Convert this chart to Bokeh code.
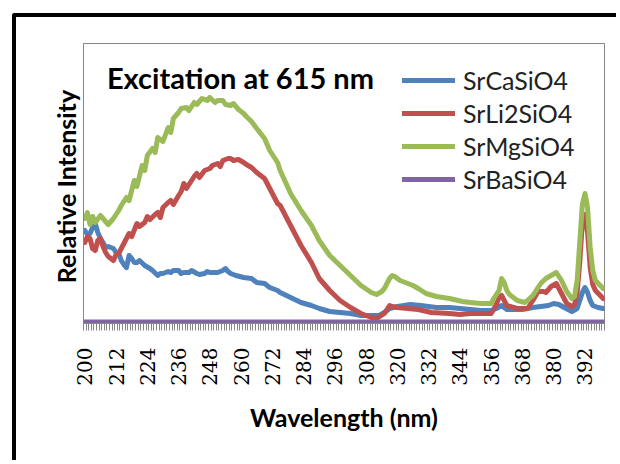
import math
from bokeh.plotting import figure
from bokeh.models import Range1d, FixedTicker, Legend, LegendItem, Label
from bokeh.embed import file_html
from bokeh.resources import INLINE

# ---------------- data ----------------
series_names = ["SrCaSiO4", "SrLi2SiO4", "SrMgSiO4", "SrBaSiO4"]
series_colors = ["#4F81BD", "#C0504D", "#9BBB59", "#8064A2"]

ca_nm = [200, 201, 202, 203, 204, 205, 206, 207, 208, 209, 211, 212, 213, 214, 215, 216, 217, 218, 219, 220,
         221, 223, 225, 226, 228, 229, 230, 232, 233, 234, 236, 237, 238, 240, 241, 243, 244, 246, 247, 248,
         250, 251, 253, 254, 255, 256, 258, 261, 264, 266, 269, 271, 274, 275, 279, 283, 287, 290, 294, 298,
         302, 306, 310, 313, 315, 317, 320, 325, 329, 335, 340, 344, 348, 352, 356, 358, 360, 362, 365, 368,
         372, 375, 378, 380, 382, 384, 387, 389, 390, 391, 392, 393, 394, 395, 397, 399]
ca_val = [92, 88, 89, 95, 99, 90, 84, 80, 75, 76, 74, 70, 69, 62, 58, 55, 67, 64, 60, 60,
          62, 57, 54, 52, 47, 49, 49, 51, 50, 52, 52, 49, 50, 50, 52, 49, 48, 49, 51, 50,
          50, 50, 52, 54, 51, 49, 47, 45, 44, 40, 39, 35, 32, 30, 25, 20, 17, 14, 11, 10,
          9, 7, 7, 7, 10, 14, 16, 18, 17, 15, 15, 14, 13, 12, 12, 14, 17, 13, 13, 13,
          15, 16, 17, 19, 18, 15, 11, 14, 22, 30, 35, 30, 22, 17, 15, 14]

li_nm = [200, 201, 202, 203, 204, 205, 206, 207, 208, 209, 211, 212, 213, 214, 215, 217, 218, 220, 221, 223,
         224, 225, 227, 228, 229, 230, 232, 233, 234, 236, 237, 238, 239, 241, 242, 243, 244, 246, 248, 249,
         251, 252, 253, 255, 256, 257, 259, 261, 262, 264, 266, 269, 271, 274, 275, 279, 283, 287, 290, 294,
         298, 302, 306, 310, 312, 315, 317, 318, 320, 324, 328, 333, 340, 344, 348, 352, 356, 358, 359, 360,
         361, 362, 366, 370, 372, 374, 376, 377, 379, 381, 383, 385, 387, 388, 389, 390, 391, 392, 393, 394,
         395, 396, 399]
li_val = [80, 86, 84, 74, 72, 82, 84, 76, 70, 66, 62, 68, 69, 74, 79, 89, 86, 99, 96, 100,
          106, 103, 108, 110, 105, 115, 120, 122, 118, 127, 131, 139, 134, 142, 146, 149, 145, 152, 154, 157,
          159, 156, 162, 164, 164, 162, 163, 160, 158, 155, 150, 144, 134, 119, 117, 97, 77, 60, 44, 32,
          22, 15, 9, 5, 4, 9, 17, 16, 15, 14, 13, 10, 9, 8, 9, 9, 9, 18, 25, 27,
          22, 17, 14, 14, 22, 31, 31, 30, 36, 39, 29, 19, 16, 18, 30, 60, 100, 108, 90, 55,
          38, 32, 24]

mg_nm = [200, 201, 202, 203, 204, 206, 208, 209, 211, 213, 214, 216, 217, 219, 220, 222, 223, 224, 226, 227,
         228, 230, 232, 233, 234, 236, 237, 239, 240, 242, 243, 245, 247, 248, 250, 251, 253, 254, 256, 257,
         259, 261, 262, 264, 266, 269, 271, 274, 275, 279, 283, 287, 290, 294, 298, 302, 306, 310, 312, 314,
         315, 317, 318, 319, 321, 323, 324, 326, 328, 331, 335, 340, 345, 348, 352, 356, 357, 359, 360, 361,
         362, 363, 366, 369, 372, 375, 377, 379, 381, 383, 385, 387, 388, 389, 390, 391, 392, 393, 394, 395,
         396, 399]
mg_val = [104, 110, 98, 106, 100, 107, 101, 98, 104, 112, 117, 125, 122, 142, 136, 157, 152, 167, 174, 170,
          185, 181, 195, 190, 204, 210, 214, 215, 212, 220, 218, 224, 222, 225, 220, 222, 222, 218, 217, 219,
          213, 209, 206, 201, 194, 184, 172, 160, 152, 129, 112, 97, 82, 67, 57, 47, 37, 30, 28, 31,
          34, 44, 47, 46, 42, 40, 39, 37, 34, 29, 26, 24, 21, 20, 19, 19, 24, 32, 44, 40,
          32, 28, 22, 20, 27, 39, 44, 47, 50, 42, 31, 24, 26, 42, 80, 118, 129, 115, 75, 52,
          42, 34]

ba_nm = [200, 272, 399]
ba_val = [0.5, 0.5, 0.5]

label_ticks = [200, 212, 224, 236, 248, 260, 272, 284, 296, 308, 320, 332, 344, 356, 368, 380, 392]
category_edges = [199.5 + i for i in range(201)]

xs = [ca_nm, li_nm, mg_nm, ba_nm]
ys = [ca_val, li_val, mg_val, ba_val]

# ---------------- figure ----------------
p = figure(width=604, height=447, output_backend="svg", toolbar_location=None,
           x_range=Range1d(199.5, 399.5), y_range=Range1d(-1, 279),
           min_border_left=67, min_border_right=16, min_border_top=26, min_border_bottom=141)
# outer black chart-area border (its right and bottom edges fall outside the page)
p.styles = {"margin-left": "12px", "margin-top": "13px",
            "border-left": "4px solid black", "border-top": "4px solid black",
            "border-top-left-radius": "3px"}
p.background_fill_color = "white"
p.border_fill_color = "white"
p.outline_line_color = "#868686"
p.outline_line_width = 1
p.grid.visible = False

renderers = []
for x, y, c in zip(xs, ys, series_colors):
    r = p.line(x, y, line_color=c, line_width=5, line_join="round", line_cap="round")
    renderers.append(r)

xa = p.xaxis[0]
xa.ticker = FixedTicker(ticks=label_ticks, minor_ticks=category_edges)
xa.axis_line_color = "#868686"
xa.major_tick_line_color = None
xa.major_tick_out = 7
xa.major_tick_in = 0
xa.minor_tick_line_color = "#868686"
xa.minor_tick_out = 7
xa.minor_tick_in = 0
xa.major_label_orientation = math.pi / 2
xa.major_label_text_font = "DejaVu Serif"
xa.major_label_text_font_size = "20px"
xa.major_label_text_color = "black"
xa.major_label_standoff = 17
xa.axis_label = "Wavelength (nm)"
xa.axis_label_text_font = "Lato"
xa.axis_label_text_font_style = "bold"
xa.axis_label_text_font_size = "25px"
xa.axis_label_text_color = "black"
xa.axis_label_standoff = 13

ya = p.yaxis[0]
ya.ticker = FixedTicker(ticks=[])
ya.axis_line_color = "#868686"
ya.major_tick_line_color = None
ya.minor_tick_line_color = None
ya.axis_label = "Relative  Intensity"
ya.axis_label_text_font = "Lato"
ya.axis_label_text_font_style = "bold"
ya.axis_label_text_font_size = "25px"
ya.axis_label_text_color = "black"
ya.axis_label_standoff = 3

title = Label(x=208.5, y=245, text="Excitation at 615 nm", text_font="Lato",
              text_font_style="bold", text_font_size="29px", text_color="black",
              text_baseline="middle", text_align="left")
p.add_layout(title)

legend = Legend(items=[LegendItem(label=n, renderers=[r]) for n, r in zip(series_names, renderers)],
                location=(319, 129), orientation="vertical",
                glyph_width=53, glyph_height=30, label_height=30, label_standoff=8,
                spacing=3, padding=0, margin=0,
                label_text_font="Lato", label_text_font_size="25px", label_text_color="#222222",
                border_line_color=None, background_fill_alpha=0)
p.add_layout(legend)

open("out.html", "w").write(file_html(p, INLINE))
